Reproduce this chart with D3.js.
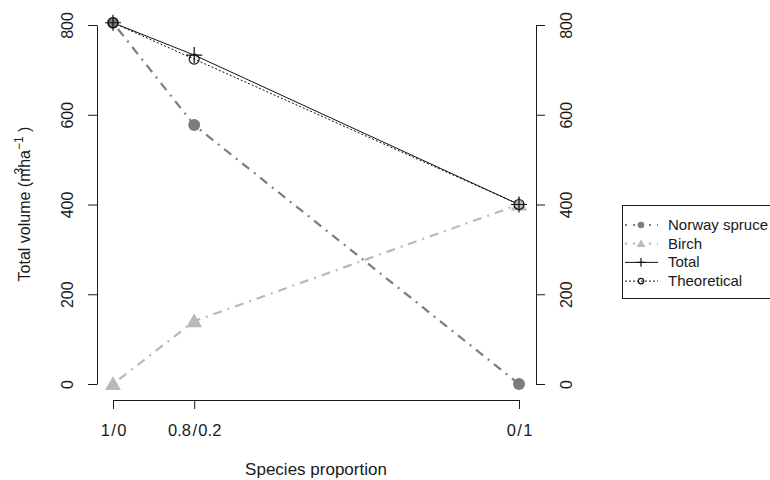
<!DOCTYPE html>
<html>
<head>
<meta charset="utf-8">
<script src="https://cdn.jsdelivr.net/npm/d3@7"></script>
<style>
  body { margin: 0; background: #fff; }
  text { font-family: "Liberation Sans", Arial, sans-serif; fill: #1a1a1a; }
</style>
</head>
<body>
<div class="chart"></div>
<script>
const width = 770;
const height = 480;

// birch share of the mixture (x positions) and their labels
const props = [0, 0.2, 1];
const propLabels = ["1\u200a/\u200a0", "0.8\u200a/\u200a0.2", "0\u200a/\u200a1"];

// volumes (m3/ha)
const spruce = [805, 577, 0];
const birch = [0, 140, 400];
const total = [805, 733, 400];
const theoretical = [805, 724, 400];

const yTicks = [0, 200, 400, 600, 800];
const legendNames = ["Norway spruce", "Birch", "Total", "Theoretical"];

const x = d3.scaleLinear().domain([0, 1]).range([113, 519]);
const y = d3.scaleLinear().domain([0, 800]).range([384, 25]);

const svg = d3.select(".chart")
    .append("svg")
    .attr("width", width)
    .attr("height", height);

// left axis
const yAxisL = svg.append("g")
    .attr("transform", `translate(${97}, 0)`)
    .call(d3.axisLeft(y).tickValues(yTicks).tickSize(9).tickSizeOuter(0));
yAxisL.selectAll("text")
    .attr("transform", "rotate(-90)")
    .attr("x", 0)
    .attr("y", -24)
    .attr("dy", 0)
    .attr("text-anchor", "middle")
    .attr("font-size", 16);

// right axis
const yAxisR = svg.append("g")
    .attr("transform", `translate(${536}, 0)`)
    .call(d3.axisRight(y).tickValues(yTicks).tickSize(9).tickSizeOuter(0));
yAxisR.selectAll("text")
    .attr("transform", "rotate(-90)")
    .attr("x", 0)
    .attr("y", 36)
    .attr("dy", 0)
    .attr("text-anchor", "middle")
    .attr("font-size", 16);

// bottom axis
const xAxis = svg.append("g")
    .attr("transform", `translate(0, ${400})`)
    .call(d3.axisBottom(x).tickValues(props).tickFormat((d, i) => propLabels[i]).tickSize(9).tickSizeOuter(0));
xAxis.selectAll("text")
    .attr("y", 36)
    .attr("dy", 0)
    .attr("font-size", 16.5);

svg.selectAll(".domain, .tick line").attr("stroke", "#1a1a1a");
svg.selectAll(".tick text").attr("fill", "#1a1a1a").style("font-family", "Liberation Sans, Arial, sans-serif");

// axis titles
svg.append("text")
    .attr("x", 316)
    .attr("y", 475)
    .attr("text-anchor", "middle")
    .attr("font-size", 17)
    .text("Species proportion");

const yTitle = svg.append("text")
    .attr("transform", `translate(${30}, ${204}) rotate(-90)`)
    .attr("text-anchor", "middle")
    .attr("font-size", 16);
yTitle.append("tspan").text("Total volume (m");
yTitle.append("tspan").attr("font-size", 12).attr("dy", -7).attr("dx", -6).text("3");
yTitle.append("tspan").attr("dy", 7).text("ha");
yTitle.append("tspan").attr("font-size", 12).attr("dy", -7).text("\u22121");
yTitle.append("tspan").attr("dy", 7).text(" )");

// series
const series = [
    {name: "Norway spruce", values: spruce, color: "#7c7c7c", width: 2.2, dash: "2,6,9,6", mark: "circle"},
    {name: "Birch", values: birch, color: "#b9b9b9", width: 2.2, dash: "2,6,9,6", mark: "triangle"},
    {name: "Total", values: total, color: "#111", width: 1, dash: null, mark: "plus"},
    {name: "Theoretical", values: theoretical, color: "#111", width: 1, dash: "2,2", mark: "open"}
];

const line = d3.line()
    .x(d => x(d[0]))
    .y(d => y(d[1]));

svg.selectAll("path.line")
    .data(series)
    .join("path")
    .attr("class", "line")
    .attr("fill", "none")
    .attr("stroke", d => d.color)
    .attr("stroke-width", d => d.width)
    .attr("stroke-dasharray", d => d.dash)
    .attr("d", d => line(props.map((p, i) => [p, d.values[i]])));

function drawMark(g, kind, color, s) {
    if (kind === "circle") {
        g.append("circle").attr("r", 6 * s).attr("fill", color);
    } else if (kind === "triangle") {
        g.append("path").attr("d", d3.symbol(d3.symbolTriangle, 110 * s * s)()).attr("fill", color)
            .attr("transform", `translate(0, ${1.5 * s})`);
    } else if (kind === "plus") {
        g.append("path").attr("d", `M${-8 * s},0H${8 * s}M0,${-8 * s}V${8 * s}`)
            .attr("stroke", color).attr("stroke-width", 1.2);
    } else {
        g.append("circle").attr("r", 5 * s).attr("fill", "none")
            .attr("stroke", color).attr("stroke-width", 1.2);
    }
}

series.forEach(ser => {
    props.forEach((p, i) => {
        const g = svg.append("g").attr("transform", `translate(${x(p)}, ${y(ser.values[i])})`);
        drawMark(g, ser.mark, ser.color, 1);
    });
});

// legend
const legend = svg.append("g");
legend.append("rect")
    .attr("x", 622.5)
    .attr("y", 205.5)
    .attr("width", 160)
    .attr("height", 93)
    .attr("fill", "#fff")
    .attr("stroke", "#1a1a1a");

series.forEach((ser, i) => {
    const ly = 225 + i * 18.7;
    legend.append("line")
        .attr("x1", 625).attr("x2", 658)
        .attr("y1", ly).attr("y2", ly)
        .attr("stroke", ser.color)
        .attr("stroke-width", ser.width)
        .attr("stroke-dasharray", ser.dash ? (ser.width > 1 ? "2,6" : "2,2") : null);
    const g = legend.append("g").attr("transform", `translate(${641}, ${ly})`);
    drawMark(g, ser.mark, ser.color, 0.55);
    legend.append("text")
        .attr("x", 668)
        .attr("y", ly + 5)
        .attr("font-size", 15)
        .text(legendNames[i]);
});
</script>
</body>
</html>
